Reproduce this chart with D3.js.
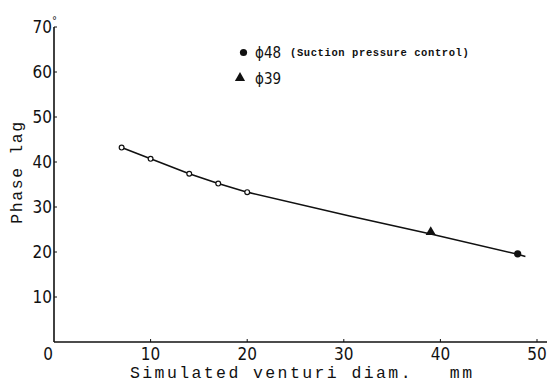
<!DOCTYPE html>
<html><head><meta charset="utf-8">
<script src="https://cdn.jsdelivr.net/npm/d3@7"></script>
<style>
body{margin:0;background:#fff;}
svg{display:block;}
</style></head>
<body>
<svg id="c" width="555" height="383"></svg>
<script>
// Data
const openX = [7, 10, 14, 17, 20];
const openY = [43.2, 40.7, 37.4, 35.2, 33.3];
const triX = [39];
const triY = [24.2];
const dotX = [48];
const dotY = [19.6];
const fitX = [7, 10, 14, 17, 20, 30.6, 39, 48, 48.8];
const fitY = [43.2, 40.7, 37.4, 35.2, 33.3, 28.0, 24.0, 19.5, 19.0];
const xTicks = [0, 10, 20, 30, 40, 50];
const yTicks = [10, 20, 30, 40, 50, 60, 70];
const legendLabels = ["\u03D548", "\u03D539"];
const legendNote = "(Suction pressure control)";

const svg = d3.select("#c");
const x = d3.scaleLinear().domain([0, 50]).range([54, 537]);
const y = d3.scaleLinear().domain([0, 70]).range([342, 27]);
const ink = "#111";
const tickFont = "'Liberation Sans Narrow','DejaVu Sans Condensed','Liberation Sans',sans-serif";
const mono = "'Liberation Mono','DejaVu Sans Mono',monospace";

// axes
svg.append("line").attr("x1", x(0)).attr("x2", 547).attr("y1", y(0)).attr("y2", y(0))
  .attr("stroke", ink).attr("stroke-width", 1.6);
svg.append("line").attr("x1", x(0)).attr("x2", x(0)).attr("y1", y(0)).attr("y2", y(70))
  .attr("stroke", ink).attr("stroke-width", 1.6);

// ticks (inward)
svg.selectAll(".xt").data(xTicks.filter(d => d > 0)).join("line")
  .attr("x1", d => x(d)).attr("x2", d => x(d)).attr("y1", y(0)).attr("y2", y(0) - 3)
  .attr("stroke", ink).attr("stroke-width", 1);
svg.selectAll(".yt").data(yTicks).join("line")
  .attr("x1", x(0)).attr("x2", x(0) + 3).attr("y1", d => y(d)).attr("y2", d => y(d))
  .attr("stroke", ink).attr("stroke-width", 1);

// tick labels
svg.selectAll(".xl").data(xTicks).join("text")
  .attr("x", d => d === 0 ? x(d) - 6 : x(d)).attr("y", 360)
  .attr("text-anchor", "middle").attr("font-family", tickFont).attr("font-size", 17)
  .attr("fill", ink).text(d => d);
svg.selectAll(".yl").data(yTicks).join("text")
  .attr("x", x(0) - 2).attr("y", d => y(d) + 6)
  .attr("text-anchor", "end").attr("font-family", tickFont).attr("font-size", 17)
  .attr("fill", ink).text(d => d);
// degree mark
svg.append("text").attr("x", x(0) - 2).attr("y", y(70) - 3)
  .attr("font-family", tickFont).attr("font-size", 11).attr("fill", ink).text("\u00B0");

// axis titles
svg.append("text").attr("x", 130).attr("y", 378)
  .attr("font-family", mono).attr("font-size", 16.5).attr("letter-spacing", 2.4)
  .attr("fill", ink).style("white-space", "pre").text("Simulated venturi diam.   mm");
svg.append("text").attr("transform", "translate(22,172) rotate(-90)")
  .attr("text-anchor", "middle")
  .attr("font-family", mono).attr("font-size", 16.5).attr("letter-spacing", 1.6)
  .attr("fill", ink).text("Phase lag");

// fitted line
const line = d3.line().x(d => x(d[0])).y(d => y(d[1])).curve(d3.curveLinear);
svg.append("path").datum(fitX.map((d, i) => [d, fitY[i]]))
  .attr("d", line).attr("fill", "none").attr("stroke", ink).attr("stroke-width", 1.6);

// open circles
svg.selectAll(".oc").data(openX.map((d, i) => [d, openY[i]])).join("circle")
  .attr("cx", d => x(d[0])).attr("cy", d => y(d[1])).attr("r", 2.4)
  .attr("fill", "#fff").attr("stroke", ink).attr("stroke-width", 1.2);

// triangle
const triSym = d3.symbol().type(d3.symbolTriangle).size(45);
svg.selectAll(".tr").data(triX.map((d, i) => [d, triY[i]])).join("path")
  .attr("transform", d => `translate(${x(d[0])},${y(d[1]) - 1})`)
  .attr("d", triSym).attr("fill", ink);
// filled dot
svg.selectAll(".fd").data(dotX.map((d, i) => [d, dotY[i]])).join("circle")
  .attr("cx", d => x(d[0])).attr("cy", d => y(d[1])).attr("r", 3.6).attr("fill", ink);

// legend
svg.append("circle").attr("cx", 243.5).attr("cy", 52.5).attr("r", 3.6).attr("fill", ink);
svg.append("path").attr("transform", "translate(240,78)").attr("d", triSym).attr("fill", ink);
svg.append("text").attr("x", 255).attr("y", 58).attr("font-family", tickFont)
  .attr("font-size", 15).attr("fill", ink).text(legendLabels[0]);
svg.append("text").attr("x", 255).attr("y", 84).attr("font-family", tickFont)
  .attr("font-size", 15).attr("fill", ink).text(legendLabels[1]);
svg.append("text").attr("x", 290).attr("y", 56).attr("font-family", mono)
  .attr("font-size", 10.5).attr("font-weight", "bold").attr("letter-spacing", 0.6)
  .attr("fill", ink).text(legendNote);
</script>
</body></html>
